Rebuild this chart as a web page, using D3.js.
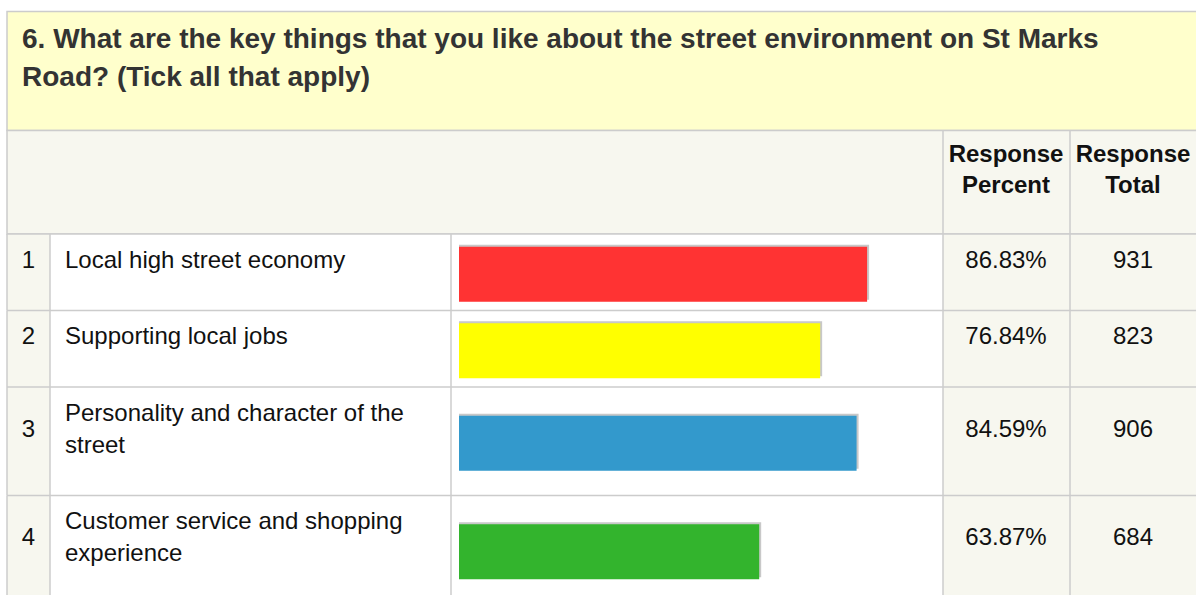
<!DOCTYPE html>
<html>
<head>
<meta charset="utf-8">
<script src="https://cdn.jsdelivr.net/npm/d3@7"></script>
<style>
  body { margin: 0; background: #fff; }
  svg { display: block; font-family: Arial, "Liberation Sans", sans-serif; }
</style>
</head>
<body>
<div id="chart"></div>
<script>
'use strict';

// Survey question and answers
const titleLines = [
  "6. What are the key things that you like about the street environment on St Marks",
  "Road? (Tick all that apply)"
];
const headerPercent = ["Response", "Percent"];
const headerTotal = ["Response", "Total"];
const answers = [
  "Local high street economy",
  "Supporting local jobs",
  "Personality and character of the street",
  "Customer service and shopping experience"
];
const percents = [86.83, 76.84, 84.59, 63.87];
const totals = [931, 823, 906, 684];
const barColors = ["#ff3333", "#ffff00", "#3399cc", "#33b42d"];

const width = 1196;
const height = 595;
const lineColor = "#cccccc";
const beige = "#f7f7ef";
const fontSize = 24;

// column edges
const colIdx = 7, colLabel = 50, colBar = 451, colPct = 943, colTot = 1070, colEnd = 1200;
const titleTop = 11.5, headTop = 130.5, bodyTop = 234;

const svg = d3.select("#chart").append("svg")
    .attr("width", width)
    .attr("height", height)
    .attr("viewBox", "0 0 " + width + " " + height);

const x = d3.scaleLinear().domain([0, 100]).range([colBar + 8, colBar + 478]);

// title block
svg.append("rect")
    .attr("x", colIdx).attr("y", titleTop)
    .attr("width", colEnd - colIdx).attr("height", headTop - titleTop)
    .attr("fill", "#ffffcc").attr("stroke", lineColor).attr("stroke-width", 1.5);

svg.append("g").selectAll("text")
  .data(titleLines)
  .join("text")
    .attr("x", 22)
    .attr("y", (d, i) => 38 + i * 38 + 10)
    .attr("fill", "#333")
    .style("font-size", "28px")
    .style("font-weight", "bold")
    .text(d => d);

// header row
svg.append("rect")
    .attr("x", colIdx).attr("y", headTop)
    .attr("width", colEnd - colIdx).attr("height", bodyTop - headTop)
    .attr("fill", beige).attr("stroke", lineColor).attr("stroke-width", 1.5);

[[colPct, headerPercent], [colTot, headerTotal]].forEach(([cx, lines]) => {
  svg.append("line")
      .attr("x1", cx).attr("x2", cx).attr("y1", headTop).attr("y2", bodyTop)
      .attr("stroke", lineColor).attr("stroke-width", 1.5);
  svg.append("g").selectAll("text")
    .data(lines)
    .join("text")
      .attr("x", cx + 63)
      .attr("y", (d, i) => 153 + i * 31 + 8.5)
      .attr("text-anchor", "middle")
      .attr("fill", "#111")
      .style("font-size", fontSize + "px")
      .style("font-weight", "bold")
      .text(d => d);
});

// wrap the answer labels to the label column
const measure = svg.append("text").style("font-size", fontSize + "px");
function wrap(str, maxW) {
  const words = str.split(" ");
  const out = [];
  let line = [];
  words.forEach(w => {
    line.push(w);
    measure.text(line.join(" "));
    if (measure.node().getComputedTextLength() > maxW && line.length > 1) {
      line.pop();
      out.push(line.join(" "));
      line = [w];
    }
  });
  out.push(line.join(" "));
  return out;
}
const wrapped = answers.map(a => wrap(a, 370));
measure.remove();

// rows
let yPos = bodyTop;
const rows = answers.map((a, i) => {
  const h = 44.5 + 32 * wrapped[i].length;
  const r = {i: i, top: yPos, h: h, lines: wrapped[i]};
  yPos += h;
  return r;
});

const row = svg.append("g").selectAll("g")
  .data(rows)
  .join("g")
    .attr("transform", d => `translate(0,${d.top})`);

// cell backgrounds
row.append("rect").attr("x", colIdx).attr("width", colLabel - colIdx).attr("height", d => d.h).attr("fill", beige);
row.append("rect").attr("x", colLabel).attr("width", colPct - colLabel).attr("height", d => d.h).attr("fill", "#fff");
row.append("rect").attr("x", colPct).attr("width", colEnd - colPct).attr("height", d => d.h).attr("fill", beige);

// grid lines
row.append("line")
    .attr("x1", colIdx).attr("x2", colEnd).attr("y1", 0).attr("y2", 0)
    .attr("stroke", lineColor).attr("stroke-width", 1.5);
[colIdx, colLabel, colBar, colPct, colTot].forEach(cx => {
  row.append("line")
      .attr("x1", cx).attr("x2", cx).attr("y1", 0).attr("y2", d => d.h)
      .attr("stroke", lineColor).attr("stroke-width", 1.5);
});

// index numbers
row.append("text")
    .attr("x", 28.5)
    .attr("y", d => d.h / 2 - 13 + 8.5)
    .attr("text-anchor", "middle")
    .attr("fill", "#111")
    .style("font-size", fontSize + "px")
    .text(d => d.i + 1);

// answer labels
row.append("text")
    .attr("fill", "#111")
    .style("font-size", fontSize + "px")
    .selectAll("tspan")
    .data(d => d.lines.map((l, j) => ({l: l, j: j, n: d.lines.length, h: d.h})))
    .join("tspan")
      .attr("x", 65)
      .attr("y", t => t.h / 2 - 13 + 8.5 + (t.j - (t.n - 1) / 2) * 32)
      .text(t => t.l);

// bars with grey shadow edge
row.append("rect")
    .attr("x", x(0))
    .attr("y", d => d.h / 2 - 27.5)
    .attr("width", d => x(percents[d.i]) - x(0) + 2)
    .attr("height", 55)
    .attr("fill", "#c8c8c8");
row.append("rect")
    .attr("x", x(0))
    .attr("y", d => d.h / 2 - 25.5)
    .attr("width", d => x(percents[d.i]) - x(0))
    .attr("height", 55)
    .attr("fill", d => barColors[d.i]);

// percent and total
row.append("text")
    .attr("x", colPct + 63)
    .attr("y", d => d.h / 2 - 13 + 8.5)
    .attr("text-anchor", "middle")
    .attr("fill", "#111")
    .style("font-size", fontSize + "px")
    .text(d => percents[d.i].toFixed(2) + "%");
row.append("text")
    .attr("x", colTot + 63)
    .attr("y", d => d.h / 2 - 13 + 8.5)
    .attr("text-anchor", "middle")
    .attr("fill", "#111")
    .style("font-size", fontSize + "px")
    .text(d => totals[d.i]);
</script>
</body>
</html>
